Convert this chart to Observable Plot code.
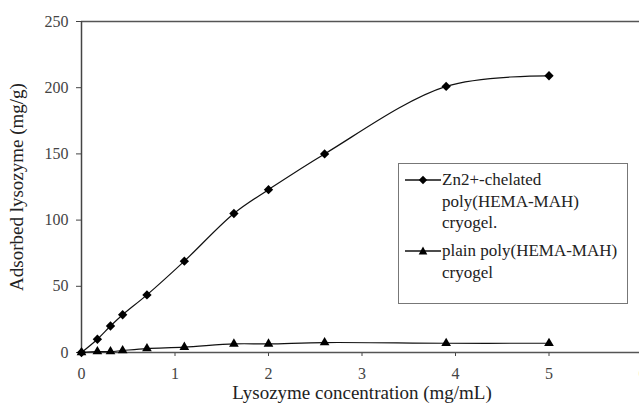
<!DOCTYPE html>
<html>
<head>
<meta charset="utf-8">
<script src="https://cdn.jsdelivr.net/npm/d3@7"></script>
<script src="https://cdn.jsdelivr.net/npm/@observablehq/plot@0.6"></script>
<style>
  html, body { margin: 0; padding: 0; background: #fff; }
  #wrap { position: relative; width: 639px; height: 405px; overflow: hidden;
          font-family: "Liberation Serif", "DejaVu Serif", Times, serif; }
  #wrap svg { display: block; }
  #legend { position: absolute; left: 398px; top: 163px; width: 230px; height: 141px;
            border: 1.3px solid #777; background: #fff; box-sizing: border-box; }
  .entry { position: absolute; left: 0; width: 100%; }
  .entry svg { position: absolute; left: 6px; top: 0; }
  .entry .txt { position: absolute; left: 43px; top: 0; font-size: 17px; line-height: 21.5px;
                color: #222; white-space: nowrap; }
</style>
</head>
<body>
<div id="wrap"></div>
<script>
// Data
const concentration = [0, 0.17, 0.31, 0.44, 0.7, 1.1, 1.63, 2.0, 2.6, 3.9, 5.0];
const znChelated    = [0, 10, 20, 28.5, 43.5, 69, 105, 123, 150, 201, 209];
const plainCryogel  = [0, 0.7, 0.7, 1.5, 3, 4, 6.5, 6.5, 7.5, 7, 7];
const xTicks = [0, 1, 2, 3, 4, 5, 6];
const yTicks = [0, 50, 100, 150, 200, 250];
const seriesNames = ["Zn2+-chelated\npoly(HEMA-MAH)\ncryogel.", "plain poly(HEMA-MAH)\ncryogel"];
const xTitle = "Lysozyme concentration (mg/mL)";
const yTitle = "Adsorbed lysozyme (mg/g)";

const zn = concentration.map((c, i) => ({c, v: znChelated[i]}));
const pl = concentration.map((c, i) => ({c, v: plainCryogel[i]}));

const font = "Liberation Serif, DejaVu Serif, Times, serif";
const plot = Plot.plot({
  width: 639, height: 405,
  marginLeft: 81, marginRight: -3, marginTop: 21, marginBottom: 53,
  style: {fontFamily: font, background: "#fff", overflow: "visible"},
  x: {domain: [0, 6]},
  y: {domain: [0, 250]},
  marks: [
    Plot.axisX({ticks: xTicks, tickFormat: d3.format("d"), tickSize: 4, tickPadding: 11, fontSize: 16, color: "#444", label: null}),
    Plot.axisY({ticks: yTicks, tickFormat: d3.format("d"), tickSize: 5, tickPadding: 8, fontSize: 16, color: "#444", label: null}),
    Plot.axisX({ticks: [], tickSize: 0, fontSize: 19, color: "#222", label: xTitle, labelAnchor: "center", labelOffset: 46, labelArrow: "none"}),
    Plot.axisY({ticks: [], tickSize: 0, fontSize: 19, color: "#222", label: yTitle, labelAnchor: "center", labelOffset: 72, labelArrow: "none"}),
    Plot.ruleY([250], {stroke: "#555", strokeWidth: 1.5}),
    Plot.ruleY([0], {stroke: "#555", strokeWidth: 1.5}),
    Plot.ruleX([0], {stroke: "#444", strokeWidth: 1.5}),
    Plot.line(pl, {x: "c", y: "v", stroke: "#111", strokeWidth: 1.2, curve: "catmull-rom"}),
    Plot.line(zn, {x: "c", y: "v", stroke: "#111", strokeWidth: 1.2, curve: "catmull-rom"}),
    Plot.dot(pl, {x: "c", y: "v", symbol: "triangle", r: 3.6, fill: "#000", stroke: "none"}),
    Plot.dot(zn, {x: "c", y: "v", symbol: "diamond2", r: 4.2, fill: "#000", stroke: "none"})
  ]
});
document.getElementById("wrap").appendChild(plot);

// Legend (overlay)
const legend = document.createElement("div");
legend.id = "legend";
const sym = [
  '<path d="M18,-4.2 L22.2,0 L18,4.2 L13.8,0 Z" fill="#000"/>',
  '<path d="M18,-4.6 L22.3,3.4 L13.7,3.4 Z" fill="#000"/>'
];
const tops = [5, 76];
seriesNames.forEach((name, i) => {
  const e = document.createElement("div");
  e.className = "entry";
  e.style.top = tops[i] + "px";
  e.innerHTML =
    `<svg width="36" height="22" viewBox="0 -11 36 22"><line x1="0" x2="36" y1="0" y2="0" stroke="#111" stroke-width="1.3"/>${sym[i]}</svg>` +
    `<div class="txt">${name.split("\n").join("<br>")}</div>`;
  legend.appendChild(e);
});
document.getElementById("wrap").appendChild(legend);
</script>
</body>
</html>
